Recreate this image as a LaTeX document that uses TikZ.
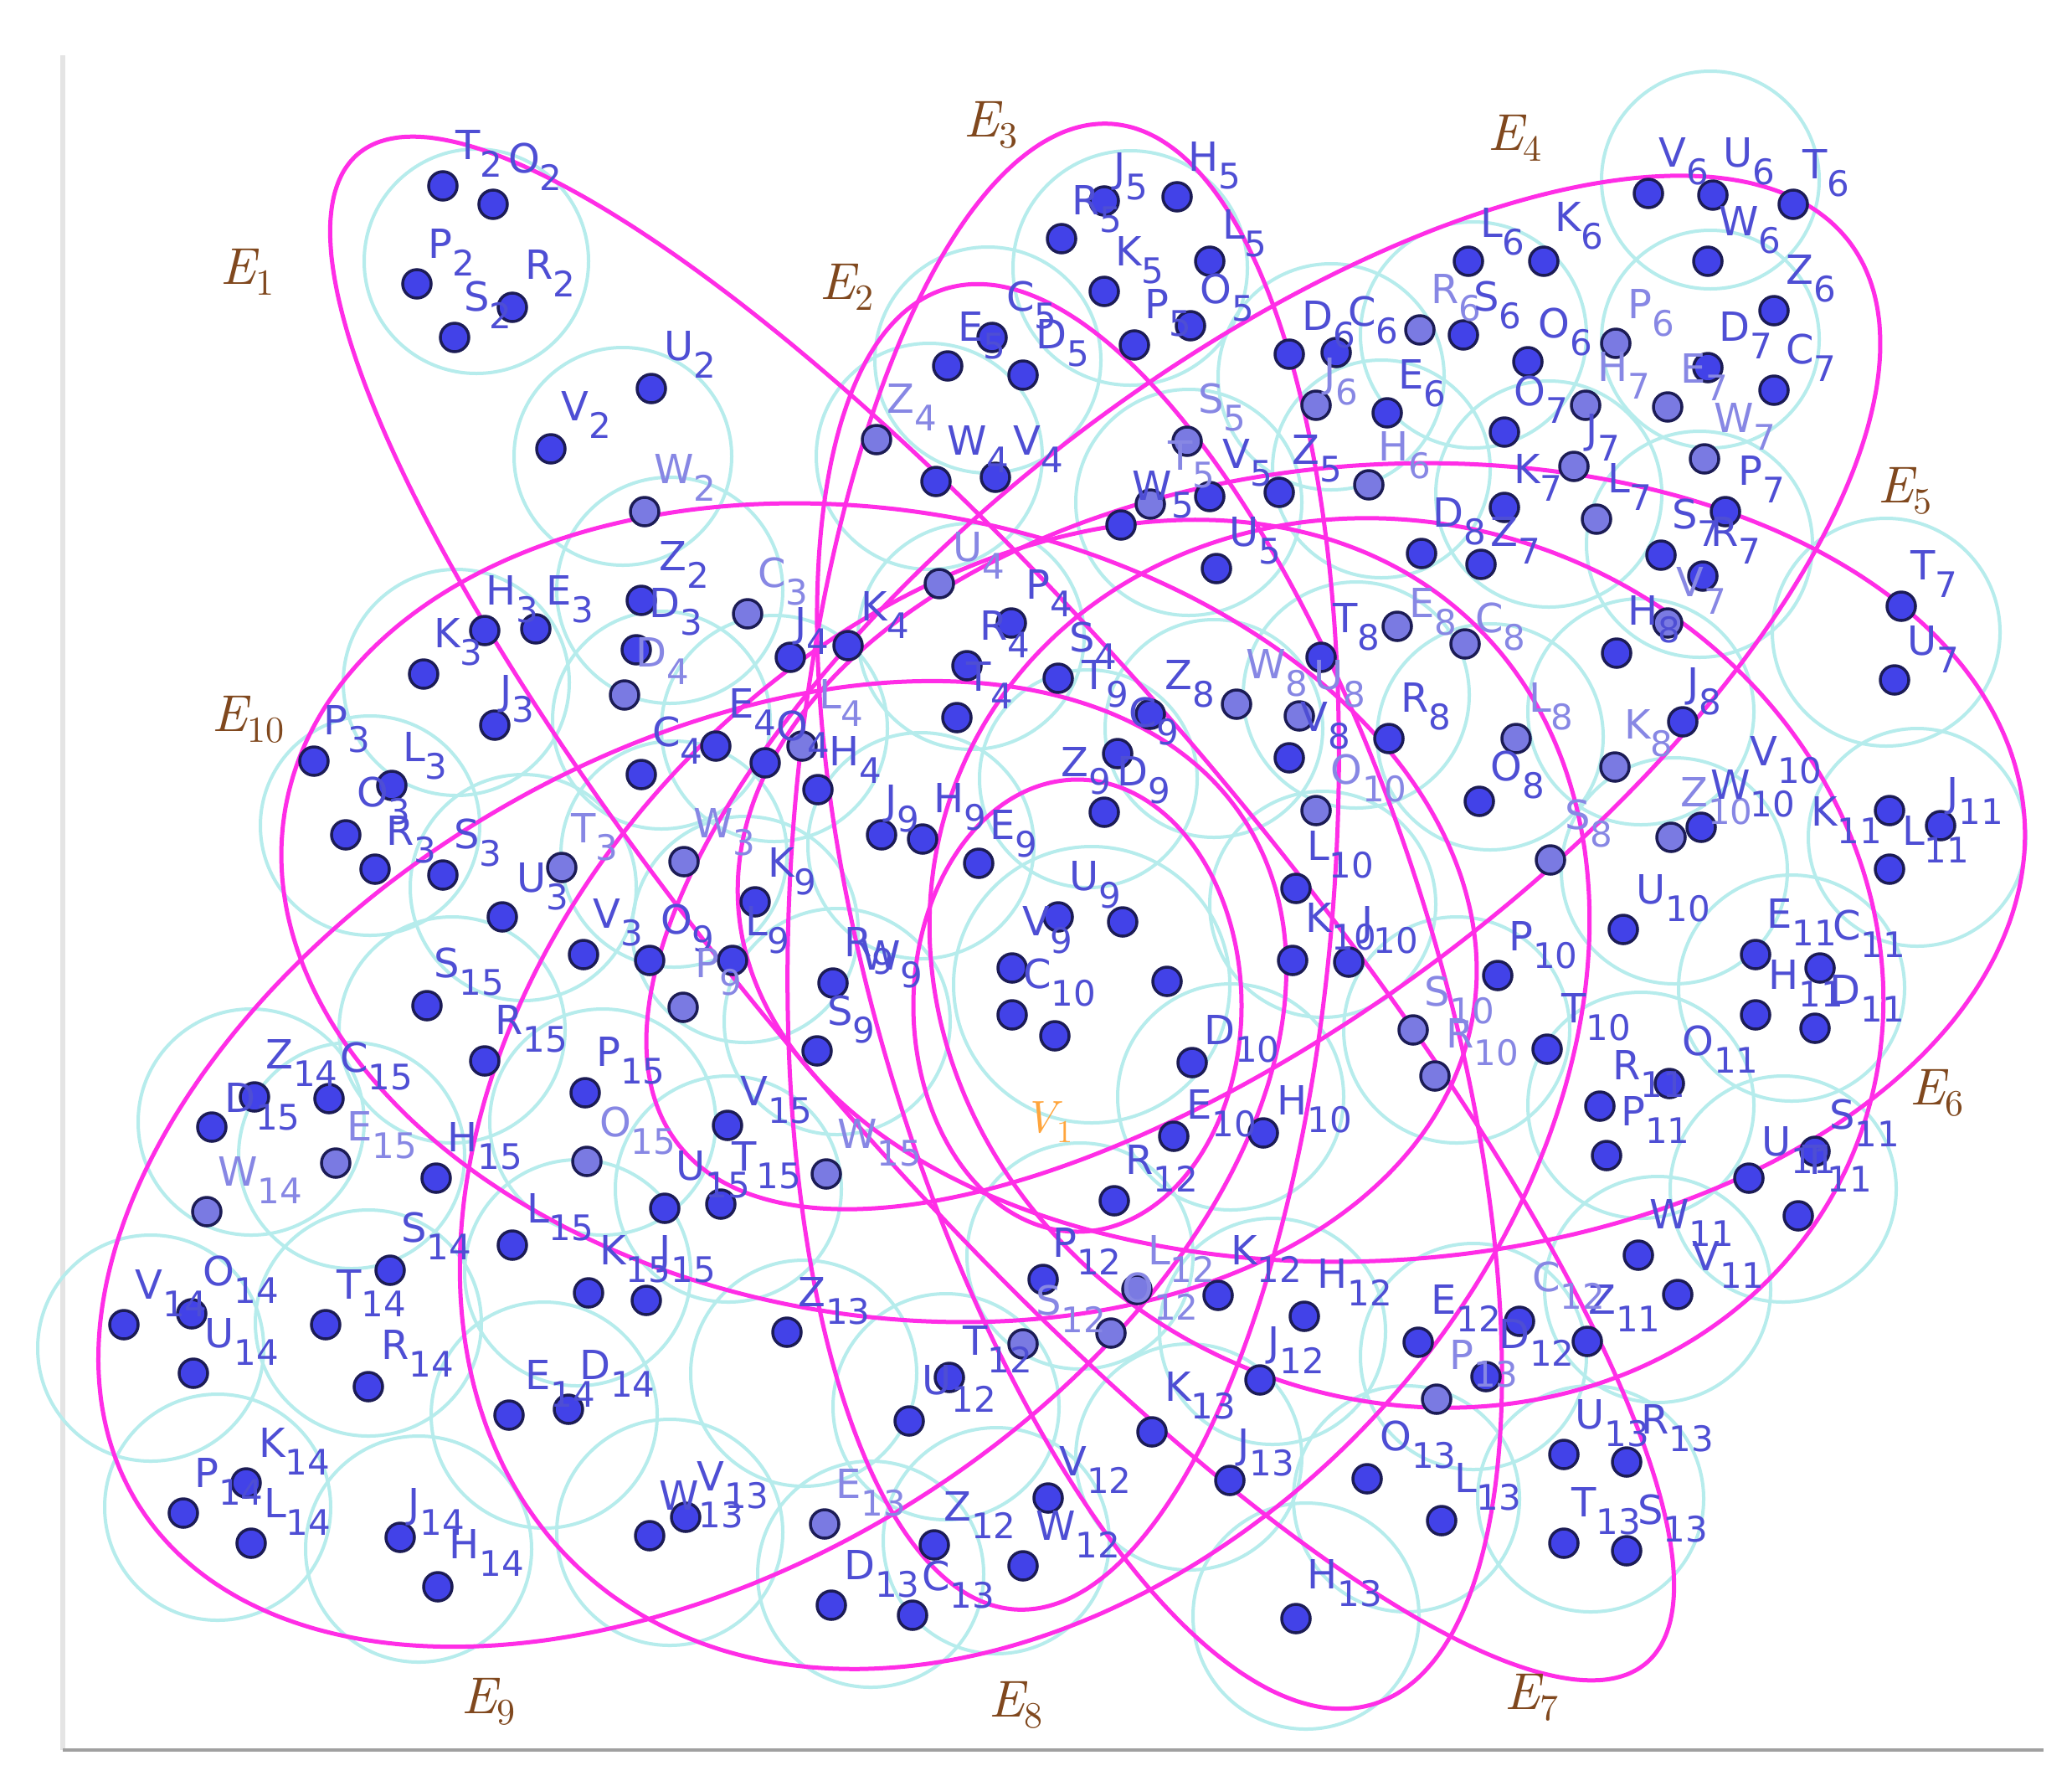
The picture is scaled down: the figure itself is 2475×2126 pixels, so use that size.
\documentclass[tikz,border=0pt]{standalone}
\usepackage{fontspec}
\setmainfont{DejaVu Sans}
\newfontfamily\lmit{lmroman10-italic.otf}
\newfontfamily\lmrm{lmroman10-regular.otf}
\definecolor{dotc}{RGB}{66,66,232}
\definecolor{dotl}{RGB}{122,122,226}
\definecolor{dotb}{RGB}{28,28,85}
\definecolor{labc}{RGB}{78,78,212}
\definecolor{lablc}{RGB}{135,135,228}
\definecolor{cyanc}{RGB}{182,236,236}
\definecolor{magc}{RGB}{255,45,230}
\definecolor{brownc}{RGB}{128,72,30}
\definecolor{orangec}{RGB}{255,165,60}
\definecolor{framec}{RGB}{160,160,160}
\definecolor{framel}{RGB}{228,228,228}
\newcommand\labfont{\fontsize{48}{48}\selectfont}
\newcommand\sbs[1]{\raisebox{-21pt}{\fontsize{42}{42}\selectfont #1}}
\newcommand\Lb[4]{\node[lab] (L#3#4) at (#1,#2) {#3\sbs{#4}};}
\newcommand\Ll[4]{\node[labl] (L#3#4) at (#1,#2) {#3\sbs{#4}};}
\newcommand\Elab[1]{{\lmit E}\raisebox{-13pt}{\lmrm\fontsize{44}{44}\selectfont #1}}
\newcommand\magell[5]{\draw[mag] plot[domain=0:357.5,samples=144,smooth cycle] ({#1+#3*cos(\x)*cos(#5)-#4*sin(\x)*sin(#5)},{#2+#3*cos(\x)*sin(#5)+#4*sin(\x)*cos(#5)});}
\begin{document}
\begin{tikzpicture}[x=1pt,y=-1pt,
  lab/.style={text=labc,inner sep=0pt,anchor=base west,font=\labfont,xshift=-3pt},
  labl/.style={lab,text=lablc},
  elab/.style={text=brownc,inner sep=0pt,anchor=base west,font=\fontsize{62}{62}\selectfont},
  dk/.style={fill=dotc,draw=dotb,line width=3.5pt},
  lt/.style={fill=dotl,draw=dotb,line width=3.5pt},
  cy/.style={draw=cyanc,line width=4pt},
  mag/.style={draw=magc,line width=5pt}]
\fill[white] (0,0) rectangle (2475,2126);
\useasboundingbox (0,0) rectangle (2475,2126);
% frame
\coordinate (fTL) at (75,66);
\coordinate (fBL) at (75,2090);
\coordinate (fBR) at (2441,2090);
\draw[framel,line width=6pt] (fTL) -- (fBL);
\draw[framec,line width=4pt] (fBL) -- (fBR);
% cyan circles
\foreach \x/\y/\r in {569/312/134,744/545/130,800/705/135,
 545/815/135,442/986/131,625/1060/135,805/1020/135,
 790/860/130,925/870/135,1110/545/135,1160/760/135,
 1350/320/140,1180/430/135,1420/600/135,
 1590/450/135,1760/400/135,2043/215/130,2043/405/130,1650/560/130,
 1850/590/135,2030/650/135,2253/755/136,
 1620/830/135,1780/880/135,1960/850/135,1450/870/130,
 1300/930/130,1304/1176/165,1100/1010/135,890/1110/135,1000/1220/135,
 1580/1080/135,1470/1310/135,1740/1230/135,2000/1040/135,
 2290/1000/130,2140/1180/135,1960/1320/135,2130/1420/135,1980/1540/135,
 1290/1500/135,1130/1680/135,1520/1590/135,1760/1620/135,1190/1840/135,
 960/1640/135,800/1830/135,1040/1880/135,1420/1740/135,1680/1790/135,1560/1930/135,1900/1790/135,
 300/1340/135,180/1610/135,440/1580/135,260/1800/135,500/1850/135,650/1690/135,
 540/1230/135,420/1380/135,720/1340/135,870/1420/135,690/1520/135}
 {\draw[cy] (\x,\y) circle (\r);}
% magenta hyperedges
\magell{1197}{1085}{1185}{300}{49.5}
\magell{1385}{1190}{883}{334}{73.2}
\magell{1270}{1035}{889}{325}{93.7}
\magell{1509}{827}{883}{380}{-37.6}
\magell{1650}{1030}{770}{475}{-4}
\magell{1680}{1150}{580}{520}{25}
\magell{1287}{1201}{196}{270}{0}
\magell{1224}{1307}{777}{568}{-46.6}
\magell{827}{1390}{777}{482}{-31.3}
\magell{1050}{1090}{720}{480}{10}
% dark dots
\foreach \x/\y in {529/222,589/244,498/339,543/403,612/367,778/464,658/536,766/717,
579/753,640/751,506/805,591/866,760/776,375/909,468/938,413/997,448/1038,529/1045,600/1095,697/1140,
1118/575,1189/570,1013/771,944/785,1208/744,1155/795,1143/857,1264/810,855/891,914/911,977/943,766/925,
1319/240,1406/235,1268/285,1319/348,1445/312,1422/389,1355/412,1185/403,1132/437,1222/448,1339/627,1445/593,1528/588,1453/679,
1540/423,1596/421,1748/400,1657/493,1754/312,1844/312,1825/432,1969/231,2046/233,2040/312,2142/244,2119/371,
1797/516,1797/606,1769/674,2040/439,2119/466,2061/611,1984/663,2034/688,2271/724,2263/812,
1578/785,1540/905,1374/853,1659/882,1767/957,1931/780,2010/862,1698/661,
1335/900,1319/970,1264/1095,1341/1101,1209/1156,1053/997,1102/1002,1169/1031,902/1077,875/1147,776/1147,995/1174,976/1255,
1548/1061,1544/1147,1611/1149,1424/1269,1402/1357,1509/1353,1789/1165,1848/1253,1939/1110,2032/988,1209/1212,1394/1172,1260/1237,
2318/986,2257/968,2257/1038,2097/1140,2174/1156,2097/1212,2168/1228,1994/1294,1911/1321,1919/1380,2168/1375,2089/1407,2148/1452,1957/1499,2004/1546,1896/1602,
1331/1434,1246/1528,1134/1645,1086/1697,1455/1547,1558/1572,1505/1648,1694/1603,1815/1578,1775/1644,1252/1789,1222/1870,1116/1845,
940/1591,776/1834,819/1812,993/1917,1090/1929,1376/1710,1469/1768,1633/1766,1722/1816,1548/1933,1868/1737,1943/1746,1868/1843,1943/1852,
304/1310,148/1582,229/1569,231/1640,466/1517,389/1582,440/1656,294/1771,219/1807,300/1843,478/1836,523/1895,608/1690,679/1683,
510/1201,579/1267,393/1312,253/1346,521/1407,699/1305,869/1344,794/1443,861/1438,612/1487,703/1544,772/1553}
 {\filldraw[dk] (\x,\y) circle (17);}
% light dots
\foreach \x/\y in {770/611,893/733,671/1036,817/1029,1047/525,1122/697,958/891,746/830,1418/527,1374/602,
1572/484,1696/394,1635/579,1930/410,1880/557,1907/620,1894/484,1992/486,2036/548,1992/744,
1669/748,1750/769,1477/841,1552/855,1811/882,1929/916,1852/1027,816/1203,1572/968,1688/1230,
1714/1285,1996/1000,1358/1540,1327/1592,1222/1605,985/1820,1716/1671,247/1447,401/1389,701/1387,987/1402}
 {\filldraw[lt] (\x,\y) circle (17);}
% labels cluster 2
\Lb{547}{190}{T}{2}\Lb{610}{206}{O}{2}\Lb{514}{308}{P}{2}\Lb{557}{371}{S}{2}\Lb{630}{333}{R}{2}
\Lb{796}{430}{U}{2}\Lb{673}{502}{V}{2}\Ll{784}{577}{W}{2}\Lb{790}{681}{Z}{2}
% cluster 3
\Lb{583}{722}{H}{3}\Lb{655}{722}{E}{3}\Lb{521}{773}{K}{3}\Lb{600}{841}{J}{3}\Lb{778}{737}{D}{3}\Ll{908}{701}{C}{3}
\Lb{389}{877}{P}{3}\Lb{484}{909}{L}{3}\Lb{429}{963}{O}{3}\Lb{464}{1009}{R}{3}\Lb{545}{1013}{S}{3}\Ll{685}{1006}{T}{3}
\Lb{620}{1065}{U}{3}\Lb{711}{1108}{V}{3}\Ll{831}{1000}{W}{3}
% cluster 4
\Ll{1062}{493}{Z}{4}\Lb{1134}{543}{W}{4}\Lb{1213}{543}{V}{4}\Ll{1141}{670}{U}{4}\Lb{1031}{741}{K}{4}\Lb{952}{760}{J}{4}
\Lb{1228}{715}{P}{4}\Lb{1173}{764}{R}{4}\Lb{1157}{825}{T}{4}\Lb{1280}{778}{S}{4}\Lb{873}{857}{E}{4}\Lb{930}{884}{O}{4}
\Ll{981}{846}{L}{4}\Lb{993}{914}{H}{4}\Lb{782}{891}{C}{4}\Ll{762}{796}{D}{4}
% cluster 5
\Lb{1333}{217}{J}{5}\Lb{1422}{204}{H}{5}\Lb{1283}{256}{R}{5}\Lb{1335}{317}{K}{5}\Lb{1463}{285}{L}{5}\Lb{1436}{362}{O}{5}
\Lb{1370}{380}{P}{5}\Lb{1205}{371}{C}{5}\Lb{1147}{407}{E}{5}\Lb{1240}{416}{D}{5}\Ll{1434}{493}{S}{5}\Ll{1398}{561}{T}{5}
\Lb{1355}{597}{W}{5}\Lb{1463}{559}{V}{5}\Lb{1546}{554}{Z}{5}\Lb{1471}{652}{U}{5}
% cluster 6
\Lb{1558}{394}{D}{6}\Lb{1613}{389}{C}{6}\Ll{1584}{462}{J}{6}\Ll{1712}{362}{R}{6}\Lb{1763}{371}{S}{6}\Lb{1673}{464}{E}{6}
\Ll{1649}{550}{H}{6}\Lb{1771}{283}{L}{6}\Lb{1860}{276}{K}{6}\Lb{1840}{403}{O}{6}\Lb{1984}{199}{V}{6}\Lb{2061}{199}{U}{6}
\Lb{2056}{281}{W}{6}\Lb{2156}{213}{T}{6}\Lb{2136}{339}{Z}{6}\Ll{1947}{380}{P}{6}
% cluster 7
\Lb{1811}{484}{O}{7}\Lb{1811}{577}{K}{7}\Lb{1783}{652}{Z}{7}\Lb{1897}{529}{J}{7}\Lb{1923}{588}{L}{7}\Ll{1911}{455}{H}{7}
\Ll{2010}{457}{E}{7}\Lb{2056}{407}{D}{7}\Lb{2136}{434}{C}{7}\Ll{2050}{516}{W}{7}\Lb{2079}{579}{P}{7}\Lb{2000}{631}{S}{7}
\Lb{2046}{652}{R}{7}\Ll{2005}{712}{V}{7}\Lb{2285}{692}{T}{7}\Lb{2281}{782}{U}{7}
% cluster 8
\Lb{1595}{755}{T}{8}\Ll{1686}{737}{E}{8}\Ll{1765}{755}{C}{8}\Ll{1491}{810}{W}{8}\Ll{1572}{823}{U}{8}\Lb{1556}{873}{V}{8}
\Lb{1394}{823}{Z}{8}\Lb{1676}{850}{R}{8}\Ll{1829}{850}{L}{8}\Lb{1783}{932}{O}{8}\Lb{1947}{746}{H}{8}\Lb{2018}{832}{J}{8}
\Ll{1943}{882}{K}{8}\Ll{1872}{990}{S}{8}\Lb{1714}{629}{D}{8}
% cluster 9
\Lb{1295}{823}{T}{9}\Lb{1351}{868}{C}{9}\Lb{1270}{927}{Z}{9}\Lb{1337}{938}{D}{9}\Lb{1280}{1063}{U}{9}\Lb{1224}{1117}{V}{9}
\Lb{1060}{972}{J}{9}\Lb{1118}{970}{H}{9}\Lb{1185}{1002}{E}{9}\Lb{920}{1047}{K}{9}\Lb{893}{1117}{L}{9}\Lb{792}{1115}{O}{9}
\Ll{833}{1167}{P}{9}\Lb{1011}{1142}{R}{9}\Lb{1031}{1158}{W}{9}\Lb{991}{1224}{S}{9}
% cluster 10
\Ll{1592}{936}{O}{10}\Lb{1564}{1027}{L}{10}\Lb{1562}{1113}{K}{10}\Lb{1629}{1117}{J}{10}\Lb{1441}{1247}{D}{10}\Lb{1420}{1336}{E}{10}
\Lb{1528}{1331}{H}{10}\Ll{1704}{1201}{S}{10}\Ll{1730}{1251}{R}{10}\Lb{1805}{1135}{P}{10}\Lb{1868}{1221}{T}{10}\Lb{1957}{1079}{U}{10}
\Lb{2093}{914}{V}{10}\Ll{2010}{963}{Z}{10}\Lb{2046}{954}{W}{10}\Lb{1225}{1180}{C}{10}
% cluster 11
\Lb{2328}{963}{J}{11}\Lb{2166}{986}{K}{11}\Lb{2275}{1009}{L}{11}\Lb{2113}{1108}{E}{11}\Lb{2192}{1122}{C}{11}\Lb{2115}{1181}{H}{11}
\Lb{2188}{1199}{D}{11}\Lb{2012}{1260}{O}{11}\Lb{1929}{1289}{R}{11}\Lb{1939}{1344}{P}{11}\Lb{2188}{1348}{S}{11}\Lb{2107}{1380}{U}{11}
\Lb{2156}{1402}{T}{11}\Lb{1973}{1467}{W}{11}\Lb{2024}{1517}{V}{11}\Lb{1900}{1569}{Z}{11}
% cluster 12
\Lb{1347}{1402}{R}{12}\Lb{1260}{1501}{P}{12}\Ll{1374}{1510}{L}{12}\Ll{1343}{1555}{O}{12}\Ll{1240}{1570}{S}{12}\Lb{1153}{1618}{T}{12}
\Lb{1104}{1665}{U}{12}\Lb{1473}{1510}{K}{12}\Lb{1576}{1538}{H}{12}\Lb{1517}{1619}{J}{12}\Lb{1712}{1569}{E}{12}\Lb{1793}{1610}{D}{12}
\Ll{1833}{1542}{C}{12}\Lb{1268}{1762}{V}{12}\Lb{1240}{1839}{W}{12}\Lb{1130}{1816}{Z}{12}
% cluster 13
\Lb{956}{1560}{Z}{13}\Lb{790}{1803}{W}{13}\Lb{835}{1780}{V}{13}\Ll{1001}{1789}{E}{13}\Lb{1011}{1886}{D}{13}\Lb{1104}{1899}{C}{13}
\Lb{1394}{1673}{K}{13}\Lb{1481}{1741}{J}{13}\Lb{1651}{1732}{O}{13}\Lb{1740}{1782}{L}{13}\Lb{1564}{1897}{H}{13}\Ll{1734}{1635}{P}{13}
\Lb{1884}{1706}{U}{13}\Lb{1963}{1712}{R}{13}\Lb{1880}{1811}{T}{13}\Lb{1959}{1820}{S}{13}
% cluster 14
\Lb{320}{1276}{Z}{14}\Ll{263}{1416}{W}{14}\Lb{164}{1551}{V}{14}\Lb{245}{1535}{O}{14}\Lb{247}{1609}{U}{14}\Lb{482}{1483}{S}{14}
\Lb{405}{1551}{T}{14}\Lb{458}{1623}{R}{14}\Lb{312}{1740}{K}{14}\Lb{235}{1776}{P}{14}\Lb{318}{1812}{L}{14}\Lb{490}{1812}{J}{14}
\Lb{539}{1861}{H}{14}\Lb{630}{1659}{E}{14}\Lb{695}{1647}{D}{14}
% cluster 15
\Lb{521}{1167}{S}{15}\Lb{594}{1235}{R}{15}\Lb{409}{1280}{C}{15}\Lb{271}{1328}{D}{15}\Ll{417}{1362}{E}{15}\Lb{537}{1375}{H}{15}
\Lb{715}{1273}{P}{15}\Ll{719}{1357}{O}{15}\Lb{887}{1320}{V}{15}\Lb{810}{1409}{U}{15}\Lb{877}{1398}{T}{15}\Ll{1003}{1371}{W}{15}
\Lb{632}{1460}{L}{15}\Lb{719}{1510}{K}{15}\Lb{790}{1510}{J}{15}
% hyperedge labels
\node[elab] (HE1) at (263,339) {\Elab{1}};
\node[elab] (HE2) at (979,357) {\Elab{2}};
\node[elab] (HE3) at (1151,163) {\Elab{3}};
\node[elab] (HE4) at (1777,179) {\Elab{4}};
\node[elab] (HE5) at (2243,600) {\Elab{5}};
\node[elab] (HE6) at (2281,1319) {\Elab{6}};
\node[elab] (HE7) at (1797,2041) {\Elab{7}};
\node[elab] (HE8) at (1181,2050) {\Elab{8}};
\node[elab] (HE9) at (551,2046) {\Elab{9}};
\node[elab] (HE10) at (253,873) {\Elab{10}};
\node[text=orangec,inner sep=0pt,anchor=base west,font=\fontsize{54}{54}\selectfont] (V1) at (1222,1352) {{\lmit V}\raisebox{-12pt}{\lmrm\fontsize{38}{38}\selectfont 1}};
\end{tikzpicture}
\end{document}
